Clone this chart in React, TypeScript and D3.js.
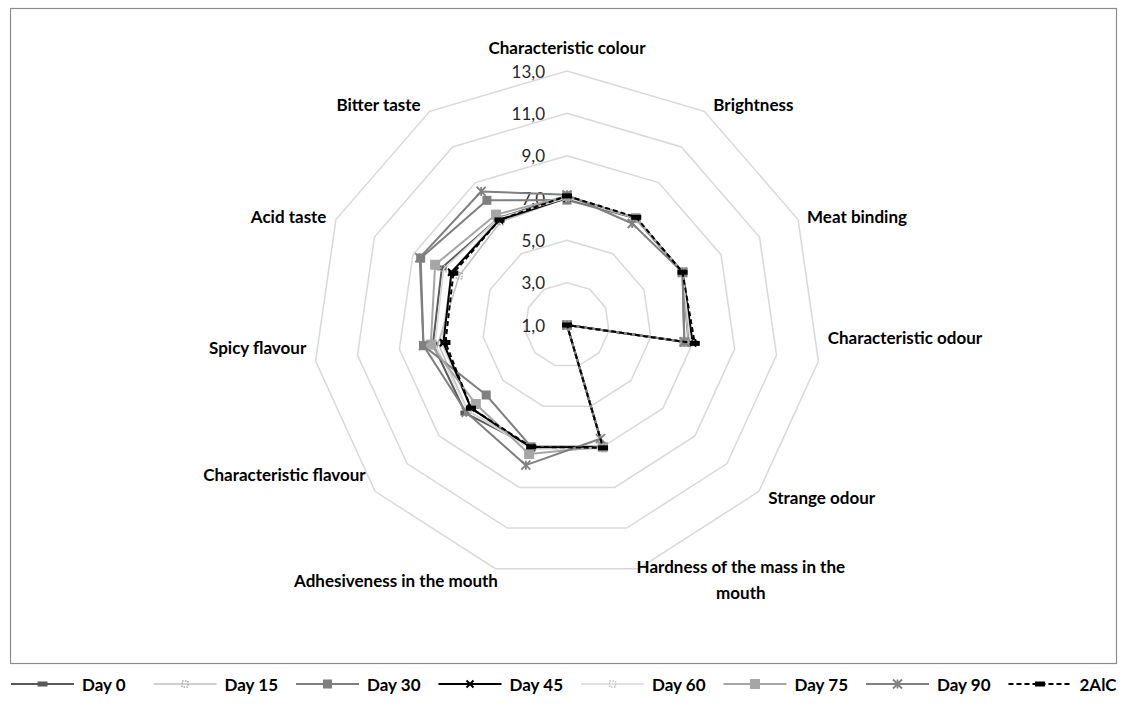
import React, { useEffect, useRef } from "react";
import * as d3 from "d3";

const CATEGORIES = [
  "Characteristic colour",
  "Brightness",
  "Meat binding",
  "Characteristic odour",
  "Strange odour",
  "Hardness of the mass in the mouth",
  "Adhesiveness in the mouth",
  "Characteristic flavour",
  "Spicy flavour",
  "Acid taste",
  "Bitter taste",
];

const TICKS = [1, 3, 5, 7, 9, 11, 13];
const TICK_LABELS = ["1,0", "3,0", "5,0", "7,0", "9,0", "11,0", "13,0"];

const SERIES_NAMES = ["Day 0", "Day 15", "Day 30", "Day 45", "Day 60", "Day 75", "Day 90", "2AlC"];

const DAY_0 = [7.1, 7.0, 7.0, 6.8, 1.0, 7.0, 7.0, 7.35, 7.4, 7.5, 7.0];
const DAY_15 = [7.0, 7.0, 7.0, 6.8, 1.0, 7.0, 7.0, 7.2, 7.15, 6.6, 6.8];
const DAY_30 = [6.9, 7.0, 7.0, 6.6, 1.0, 7.0, 7.0, 6.05, 7.85, 8.6, 8.0];
const DAY_45 = [7.0, 7.0, 7.0, 7.0, 1.0, 7.0, 7.05, 7.0, 6.9, 7.0, 6.9];
const DAY_60 = [7.0, 7.0, 7.0, 6.9, 1.0, 7.1, 7.1, 7.2, 7.3, 7.4, 7.0];
const DAY_75 = [7.1, 7.0, 7.0, 6.6, 1.0, 7.0, 7.35, 6.7, 7.5, 7.85, 7.2];
const DAY_90 = [7.15, 6.7, 7.0, 6.6, 1.0, 6.6, 7.9, 7.3, 7.85, 8.65, 8.5];
const ALC_2 = [7.1, 7.05, 7.0, 7.1, 1.0, 7.05, 7.0, 7.0, 6.8, 6.9, 6.9];

const SERIES_VALUES = [DAY_0, DAY_15, DAY_30, DAY_45, DAY_60, DAY_75, DAY_90, ALC_2];

type Style = { color: string; dash: string | null; width: number; marker: string; mcolor: string };
const STYLES: Style[] = [
  { color: "#595959", dash: null, width: 2, marker: "dash", mcolor: "#595959" },
  { color: "#bfbfbf", dash: null, width: 1.5, marker: "dotsq", mcolor: "#a6a6a6" },
  { color: "#7f7f7f", dash: null, width: 2, marker: "square", mcolor: "#808080" },
  { color: "#000000", dash: null, width: 2, marker: "x", mcolor: "#000000" },
  { color: "#d9d9d9", dash: null, width: 1.5, marker: "dotsq", mcolor: "#bfbfbf" },
  { color: "#a6a6a6", dash: null, width: 2, marker: "bigsquare", mcolor: "#a6a6a6" },
  { color: "#808080", dash: null, width: 2, marker: "star", mcolor: "#808080" },
  { color: "#000000", dash: "5,3", width: 2, marker: "dash", mcolor: "#000000" },
];

// extra vertical nudges of category labels (layout only)
const LABEL_NUDGE_Y = [0, 0, 0, -25, 0, 0, 0, -23, -15, 0, 0];

const W = 1126;
const H = 706;
const CX = 567;
const CY = 325;
const R = 254;
const FONT = "Lato, 'Open Sans', 'Liberation Sans', sans-serif";

function drawMarker(g: any, type: string, x: number, y: number, color: string) {
  if (type === "dash") {
    g.append("rect").attr("x", x - 5).attr("y", y - 2.5).attr("width", 10).attr("height", 5).attr("fill", color);
  } else if (type === "square") {
    g.append("rect").attr("x", x - 4.5).attr("y", y - 4.5).attr("width", 9).attr("height", 9).attr("fill", color);
  } else if (type === "bigsquare") {
    g.append("rect").attr("x", x - 5).attr("y", y - 5).attr("width", 10).attr("height", 10).attr("fill", color);
  } else if (type === "dotsq") {
    g.append("rect").attr("x", x - 3).attr("y", y - 3).attr("width", 6).attr("height", 6)
      .attr("fill", "none").attr("stroke", color).attr("stroke-width", 1.5).attr("stroke-dasharray", "1.5,1.5");
  } else if (type === "x") {
    const s = 3.5;
    g.append("path").attr("d", `M${x - s},${y - s}L${x + s},${y + s}M${x - s},${y + s}L${x + s},${y - s}`)
      .attr("stroke", color).attr("stroke-width", 2).attr("fill", "none");
  } else if (type === "star") {
    const s = 4.5;
    g.append("path").attr("d", `M${x - s},${y - s}L${x + s},${y + s}M${x - s},${y + s}L${x + s},${y - s}M${x},${y - s}L${x},${y + s}`)
      .attr("stroke", color).attr("stroke-width", 1.8).attr("fill", "none");
  }
}

export default function App() {
  const ref = useRef<SVGSVGElement | null>(null);

  useEffect(() => {
    document.body.style.margin = "0";
    const svg = d3.select(ref.current);
    svg.selectAll("*").remove();

    const n = CATEGORIES.length;
    const angle = d3.scaleLinear().domain([0, n]).range([0, 2 * Math.PI]);
    const rScale = d3.scaleLinear().domain([1, 13]).range([0, R]);
    const pt = (i: number, v: number): [number, number] => {
      const a = angle(i);
      const r = rScale(v);
      return [CX + r * Math.sin(a), CY - r * Math.cos(a)];
    };

    // frame
    svg.append("rect").attr("x", 10.5).attr("y", 8.5).attr("width", 1106).attr("height", 655)
      .attr("fill", "white").attr("stroke", "#8c8c8c").attr("stroke-width", 1.2);

    // rings
    const ringLine = d3.line<[number, number]>().curve(d3.curveLinearClosed);
    const gRings = svg.append("g");
    TICKS.filter((t) => t > 1).forEach((t) => {
      const pts = d3.range(n).map((i) => pt(i, t));
      gRings.append("path").attr("d", ringLine(pts)).attr("fill", "none")
        .attr("stroke", "#d9d9d9").attr("stroke-width", 1.5);
    });

    // tick labels
    TICKS.forEach((t, k) => {
      svg.append("text").attr("x", CX - 22).attr("y", CY - rScale(t)).attr("text-anchor", "end")
        .attr("dominant-baseline", "central").attr("font-family", FONT).attr("font-size", 17)
        .attr("fill", "#262626").text(TICK_LABELS[k]);
    });

    // category labels
    CATEGORIES.forEach((c, i) => {
      const a = angle(i);
      const s = Math.sin(a);
      const co = Math.cos(a);
      const [vx, vy] = pt(i, 13);
      const t = svg.append("text").attr("font-family", FONT).attr("font-size", 17)
        .attr("font-weight", "bold").attr("fill", "#000").attr("dominant-baseline", "central");
      let lines = [c];
      if (c.length > 28) {
        const words = c.split(" ");
        lines = [words.slice(0, words.length - 1).join(" "), words[words.length - 1]];
      }
      lines.forEach((ln, j) => {
        t.append("tspan").attr("x", 0).attr("dy", j === 0 ? 0 : 26).attr("text-anchor", "middle").text(ln);
      });
      const bb = (t.node() as SVGTextElement).getBBox();
      const w = bb.width;
      let cxText: number;
      let cyText: number;
      if (Math.abs(s) < 0.01) {
        cxText = vx;
        cyText = vy - 24;
      } else if (Math.abs(s) < 0.4) {
        // bottom labels: aligned at vertex x
        cxText = s > 0 ? vx - 2 + w / 2 : vx + 3 - w / 2;
        cyText = lines.length > 1 ? vy - 3 : vy + 11;
      } else {
        cxText = s > 0 ? vx + 9 + w / 2 : vx - 9 - w / 2;
        cyText = vy - 9 * co;
      }
      cyText += LABEL_NUDGE_Y[i];
      t.attr("transform", `translate(${cxText},${cyText})`);
    });

    // series
    const line = d3.line<[number, number]>().curve(d3.curveLinearClosed);
    SERIES_VALUES.forEach((vals, si) => {
      const st = STYLES[si];
      const pts = vals.map((v, i) => pt(i, v));
      const g = svg.append("g");
      g.append("path").attr("d", line(pts)).attr("fill", "none").attr("stroke", st.color)
        .attr("stroke-width", st.width).attr("stroke-dasharray", st.dash || null)
        .attr("stroke-linejoin", "round");
      pts.forEach(([x, y]) => drawMarker(g, st.marker, x, y, st.mcolor));
    });

    // legend
    const gL = svg.append("g");
    const LY = 684;
    SERIES_NAMES.forEach((name, si) => {
      const st = STYLES[si];
      const x0 = 11 + si * 142.5;
      gL.append("line").attr("x1", x0).attr("x2", x0 + 63).attr("y1", LY).attr("y2", LY)
        .attr("stroke", st.color).attr("stroke-width", st.width).attr("stroke-dasharray", st.dash || null);
      drawMarker(gL, st.marker, x0 + 31.5, LY, st.mcolor);
      gL.append("text").attr("x", x0 + 71).attr("y", LY).attr("dominant-baseline", "central")
        .attr("font-family", FONT).attr("font-size", 17).attr("font-weight", "bold").attr("fill", "#000")
        .text(name);
    });
  }, []);

  return <svg ref={ref} width={W} height={H} style={{ display: "block" }} />;
}
